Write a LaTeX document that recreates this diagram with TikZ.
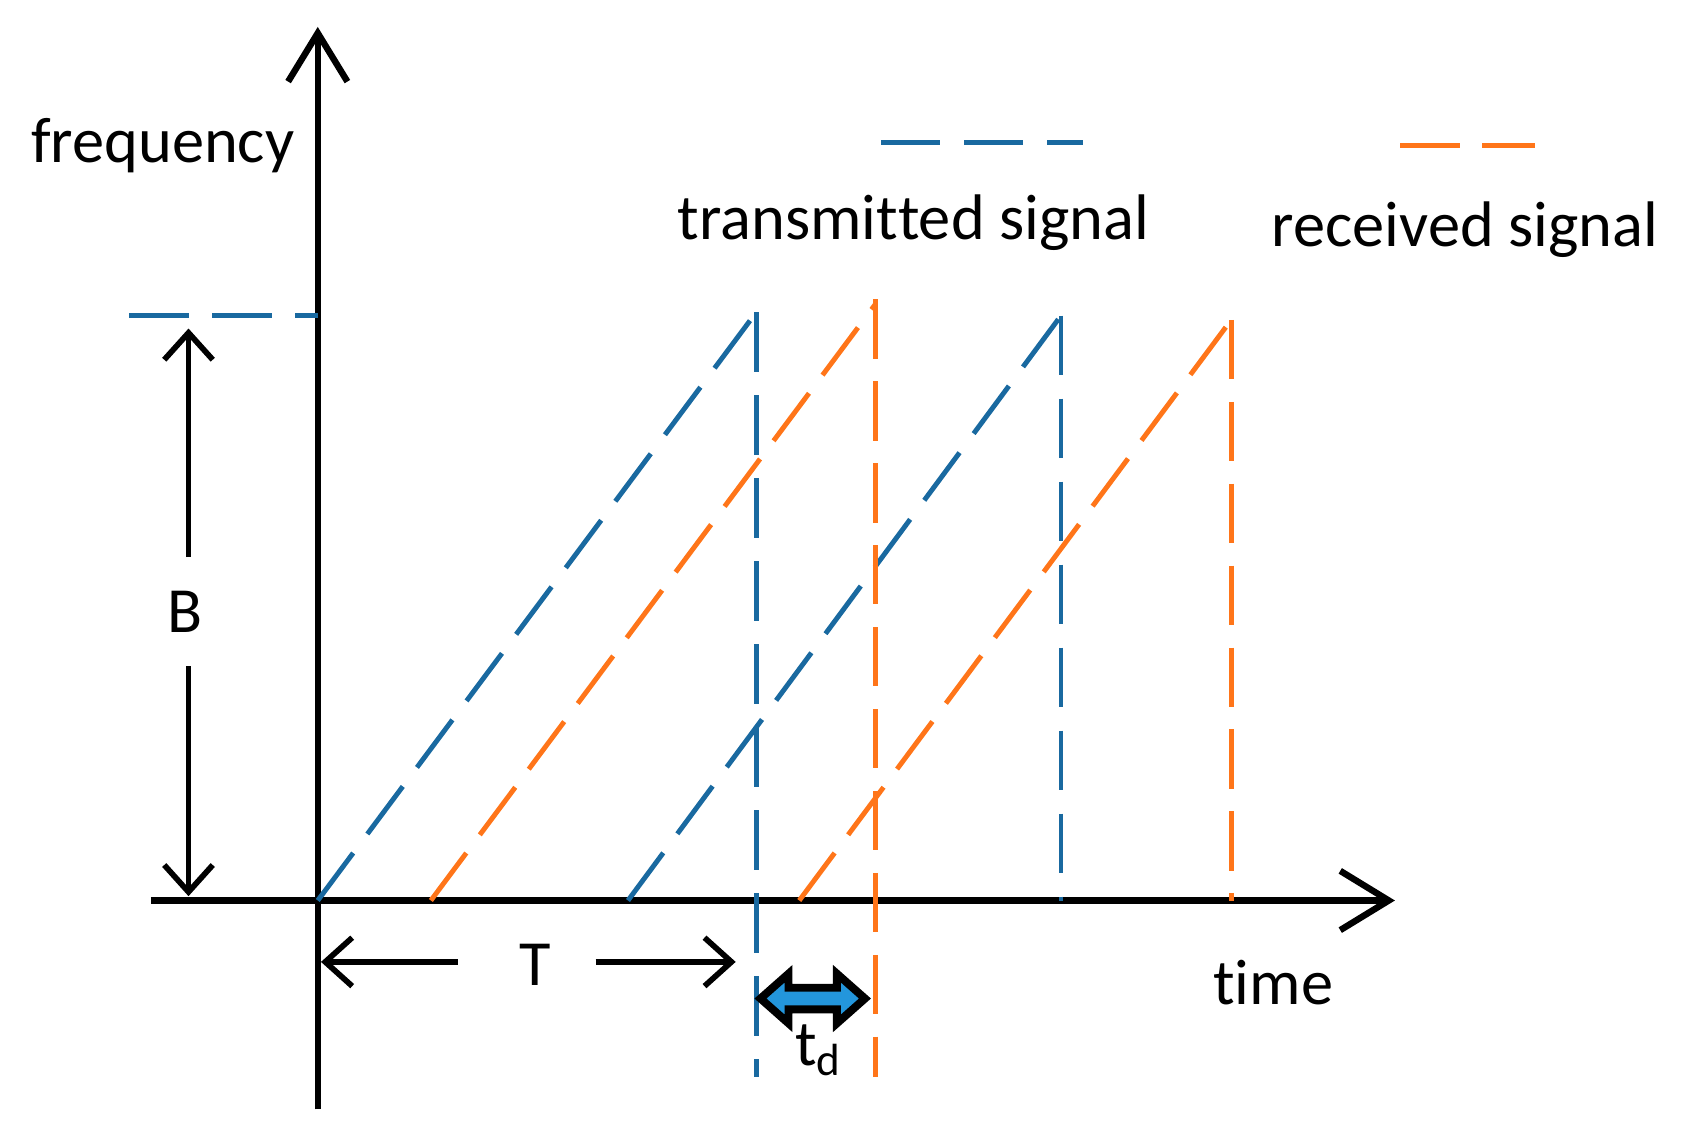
\documentclass[tikz,border=0pt]{standalone}
\usepackage{fontspec}
\setmainfont{Carlito}[Ligatures={NoCommon}]
\usetikzlibrary{arrows.meta}
\definecolor{tblue}{RGB}{25,105,160}
\definecolor{rorange}{RGB}{255,117,25}
\definecolor{tdfill}{RGB}{35,150,220}
\tikzset{
  axisline/.style={line width=1.7pt,-{Straight Barb[length=0.45cm,width=0.55cm,line width=1.7pt]}},
  dimarrow/.style={line width=1.5pt,-{Straight Barb[length=0.25cm,width=0.45cm,line width=1.5pt]}},
  tx/.style={tblue,line width=1.3pt,dash pattern=on 0.55cm off 0.22cm},
  rx/.style={rorange,line width=1.3pt,dash pattern=on 0.55cm off 0.21cm},
  lbl/.style={font=\fontsize{17}{20}\selectfont,inner sep=0pt},
}
\begin{document}
\begin{tikzpicture}[x=0.01cm,y=-0.01cm]
\useasboundingbox (0,0) rectangle (1568,1061);
% coordinates
\coordinate (O) at (295,836);
\coordinate (ytop) at (295,25);
\coordinate (ybot) at (295,1030);
\coordinate (xleft) at (140,836);
\coordinate (xright) at (1295,836);
% axes
\draw[axisline] (ybot) -- (ytop);
\draw[axisline] (xleft) -- (xright);
% B level line
\coordinate (Bl) at (120,293);
\coordinate (Br) at (295,293);
\draw[tx] (Bl) -- (Br);
% B dimension
\node[lbl,minimum height=1cm] (B) at (172,568) {B};
\coordinate (Btop) at (175,305);
\coordinate (Bbot) at (175,832);
\draw[dimarrow] (B.north -| Btop) -- (Btop);
\draw[dimarrow] (B.south -| Bbot) -- (Bbot);
% transmitted ramps
\coordinate (b1s) at (295,836);
\coordinate (b1e) at (702,290);
\coordinate (b1d) at (702,1000);
\draw[tx] (b1s) -- (b1e);
\draw[tx] (b1e) -- (b1d);
\coordinate (b2s) at (583,836);
\coordinate (b2e) at (985,293);
\coordinate (b2d) at (985,836);
\draw[tx] (b2s) -- (b2e);
\draw[tx] (b2e) -- (b2d);
% received ramps
\coordinate (o1s) at (400,836);
\coordinate (o1e) at (813,282);
\coordinate (o1t) at (813,278);
\coordinate (o1d) at (813,1000);
\draw[rx] (o1s) -- (o1e);
\draw[rx] (o1t) -- (o1d);
\coordinate (o2s) at (742,836);
\coordinate (o2e) at (1143,297);
\coordinate (o2d) at (1143,836);
\draw[rx] (o2s) -- (o2e);
\draw[rx] (o2e) -- (o2d);
% legend
\coordinate (lb1) at (818,132);
\coordinate (lb2) at (1005,132);
\coordinate (lo1) at (1300,135);
\coordinate (lo2) at (1425,135);
\draw[tx] (lb1) -- (lb2);
\draw[rx] (lo1) -- (lo2);
\node[lbl] (tsig) at (848,207) {transmit\kern0pt ted signal};
\node[lbl] (rsig) at (1360,213) {received signal};
% axis labels
\node[lbl] (freq) at (151,135) {frequency};
\node[lbl] (time) at (1182,912) {time};
% T dimension
\node[lbl] (T) at (497,896) {T};
\coordinate (Tgl) at (425,893);
\coordinate (Tgr) at (553,893);
\coordinate (Tl) at (298,893);
\coordinate (Tr) at (683,893);
\draw[dimarrow] (Tgl) -- (Tl);
\draw[dimarrow] (Tgr) -- (Tr);
% td double arrow
\coordinate (tdl) at (706,927);
\coordinate (tdr) at (803,927);
\draw[line width=2.1pt,line join=miter,fill=tdfill]
  (tdl) -- ++(26,-23) -- ++(0,13) -- ++(45,0) -- ++(0,-13) -- (tdr)
  -- ++(-26,23) -- ++(0,-13) -- ++(-45,0) -- ++(0,13) -- cycle;
\node[lbl] (td) at (760,975) {t\textsubscript{d}};
\end{tikzpicture}
\end{document}
